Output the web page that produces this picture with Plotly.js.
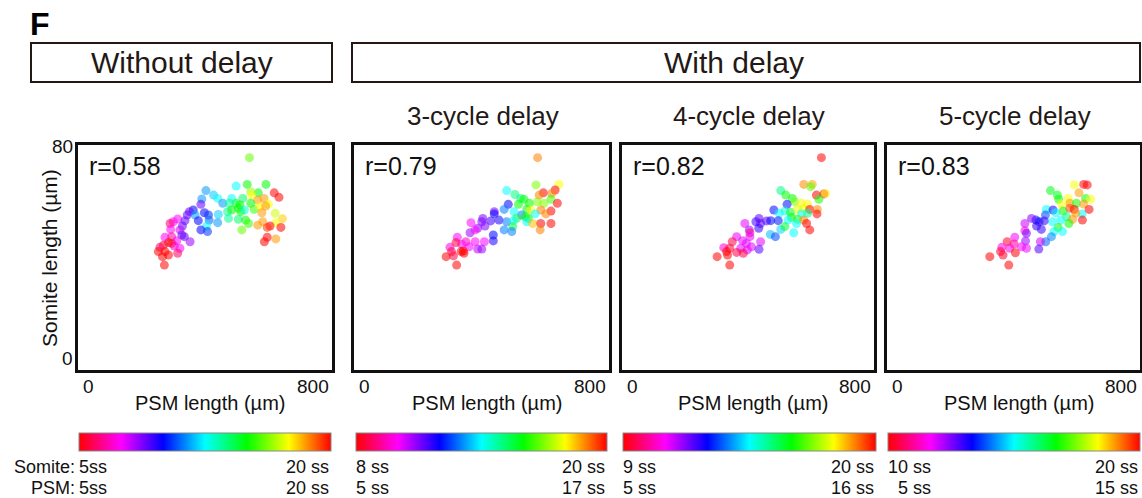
<!DOCTYPE html>
<html>
<head>
<meta charset="utf-8">
<script src="https://cdn.plot.ly/plotly-3.0.1.min.js"></script>
<style>html,body{margin:0;padding:0;background:#fff;}#chart{width:1142px;height:498px;}</style>
</head>
<body>
<div id="chart"></div>
<script>
// ---------- Data (PSM length µm, somite length µm, somite stage) ----------
const panelTitles = ["Without delay", "3-cycle delay", "4-cycle delay", "5-cycle delay"];
const rValues = ["r=0.58", "r=0.79", "r=0.82", "r=0.83"];
const somiteStageRange = [[5, 20], [8, 20], [9, 20], [10, 20]];
const psmStageRange = [[5, 20], [5, 17], [5, 16], [5, 15]];

const p1X = [540,498,533,592,403,427,440,390,484,519,544,568,547,618,633,586,600,566,544,456,477,498,510,505,555,573,591,387,363,351,344,369,398,411,442,471,484,513,524,579,621,644,624,314,300,290,337,379,413,440,474,505,528,537,566,582,605,596,639,329,292,321,405,387,408,516,327,335,274,295,353,311,295,303,269,285,258,321,253,274,285,266,314,272,596,587,623];
const p1Y = [75.5,65.4,66.0,66.0,63.8,62.2,61.0,60.8,61.0,61.0,63.4,63.0,62.2,63.0,61.4,61.0,59.0,60.4,59.3,59.3,59.3,59.3,58.7,57.5,57.1,58.1,58.3,58.9,56.9,56.3,55.1,55.1,55.9,55.1,55.3,56.3,56.9,56.3,56.9,55.9,55.7,53.8,52.4,53.7,52.7,52.1,53.1,53.1,53.3,52.4,53.9,53.6,53.3,52.1,51.5,52.7,51.2,50.7,50.7,51.2,50.0,49.8,51.2,49.8,49.2,49.8,48.0,47.4,47.2,47.4,45.6,46.0,45.0,44.1,44.4,45.3,43.6,43.3,42.1,42.1,40.9,40.3,41.5,37.3,47.2,45.6,46.6];
const p1Stage = [16,12.5,15,15,11.5,12,12.5,11.5,12.5,14,16.5,15,17.5,20,20,18.5,17.5,18.5,15,11.5,13.5,14.5,15,15,15.5,17.5,18.5,9,10,9,9,11.5,10,10.5,12,13.5,15,15,13,18.5,17,18,17.5,7.5,7.5,6,9,10,11,11.5,13.5,14,15,15.5,18.5,18.5,20,19.5,20,9,7.5,8,12.5,10,10.5,16,9,9,7.5,6.5,8.5,7.5,5.5,7,5.5,5,6,7.5,5,5,5,5,6,5,20,20,18.5];

const p2X = [576,571,643,631,594,620,581,479,505,523,533,550,575,596,618,638,516,484,471,502,542,555,586,618,602,568,526,537,547,510,440,440,404,401,429,455,479,500,542,561,586,618,584,498,495,471,367,388,411,364,380,437,437,409,324,351,338,380,301,320,361,388,401,306,336,345,312,289,322,343];
const p2Y = [75.5,65.8,66.0,64.0,63.0,62.8,62.2,63.8,62.4,61.0,60.7,59.3,59.8,59.3,60.7,59.3,58.9,58.9,57.1,56.3,57.2,56.9,56.9,56.5,55.5,55.5,55.1,54.5,53.9,53.9,56.3,55.5,53.9,52.7,53.0,53.3,52.7,53.1,52.7,52.1,52.1,52.1,49.8,51.0,49.2,49.8,52.4,50.4,51.2,48.8,49.8,48.0,45.9,45.6,47.2,45.6,44.7,45.6,43.6,45.3,43.8,43.0,43.0,42.1,42.1,41.5,40.6,40.3,37.3,42.3];
const p2Stage = [19,17,18,20,20,19,19,14,15,15,16,16,17,17,16.5,20,16,12,13,14,16,18,19,20,19,14,13,16,16,15.5,11,12,11,11,11.5,11.8,13,14,14,18.5,20,20,19,15.5,13,13,10,10.8,11,10.8,10,12,11.8,10,10,9.5,10,10,9.8,8.5,10,10.5,10.8,8.5,8,8,8.5,8,8,8];

const p3X = [633,577,604,599,504,520,541,617,641,646,625,549,570,589,524,482,499,517,535,557,575,596,620,589,570,619,538,557,577,586,554,527,435,459,472,496,425,390,440,434,404,406,406,504,517,545,596,471,487,364,350,383,395,411,440,435,323,342,377,398,332,364,385,335,302,342];
const p3Y = [75.5,66.0,66.0,65.2,63.8,62.2,61.0,62.2,62.6,62.8,60.7,59.8,59.3,59.0,58.9,56.9,55.7,56.5,56.1,57.1,57.5,57.1,57.1,55.7,55.5,55.5,54.3,53.6,53.3,52.1,52.1,53.3,53.9,53.0,53.1,53.1,52.7,52.1,52.1,50.4,49.8,48.8,47.4,50.0,51.0,48.8,49.8,48.2,47.4,47.4,45.6,46.0,45.0,43.8,45.6,42.9,43.5,43.3,43.3,42.7,42.1,41.8,41.5,40.9,40.3,37.3];
const p3Stage = [20,19,18.8,17,15.4,16.3,16.3,20,20,18.2,16.5,17.2,18.2,18.2,12.7,12.7,14.5,14.8,16,18,18,20,19,15.4,14.5,20,16.3,16.5,19,20,14.5,14.5,12,12,12.7,12.8,12.2,11,12,12.3,11.5,10,11,14.2,16,14.5,20,14,13.2,11,9.5,11,11,11,11,12,10.5,9.5,11,11,9,9.5,9.5,9,9,9];

const p4X = [622,633,592,607,517,539,543,573,578,599,628,644,622,552,504,525,534,557,578,592,617,639,597,568,587,549,575,541,555,618,523,501,471,481,497,457,436,473,488,528,520,502,485,436,441,404,438,380,402,425,441,480,363,388,359,406,367,325,385];
const p4Y = [66.0,65.8,65.8,63.0,63.8,62.2,60.7,61.0,59.3,59.3,61.0,60.7,59.0,58.9,57.1,56.9,55.9,56.5,57.5,57.1,55.5,57.1,55.7,54.5,53.6,53.3,52.1,50.7,49.2,53.3,52.7,55.1,53.3,52.7,53.0,53.9,52.1,51.2,50.0,49.2,47.4,45.6,45.6,49.5,48.6,47.2,45.9,45.6,44.8,43.8,43.3,43.0,43.6,43.3,42.1,41.7,40.9,40.3,37.3];
const p4Stage = [20,20,18.3,19,16.5,16.5,16.7,18.3,19,16.8,16.8,18.3,19,18.3,15,13.3,15,16.7,19.5,20,15,20,19,15.8,19,15,16.7,16.7,15,20,15,13.8,13.3,13.3,13,12.5,12,13,13,15,14.2,14,12,11.5,12.5,11.7,12.3,10.3,11,11.7,11.8,12.8,11.5,11.5,10.3,10,10.3,10,10];

const xRange = [0, 800];
const yRange = [0, 80];
const xTickLabels = ["0", "800"];
const yTickLabels = ["0", "80"];

// ---------- Layout helpers ----------
const W = 1142, H = 498;
const px = v => v / W;
const py = v => 1 - v / H;
const FONT = "Liberation Sans, Arial, Helvetica, sans-serif";
const INK = "#231815";
const LBL = 18;
const ROW1 = 466.5, ROW2 = 487.5;

const hueScale = [
  [0, "rgb(255,0,0)"], [1/6, "rgb(255,0,255)"], [2/6, "rgb(0,0,255)"],
  [3/6, "rgb(0,255,255)"], [4/6, "rgb(0,255,0)"], [5/6, "rgb(255,255,0)"], [1, "rgb(255,0,0)"]
];

const panelsX = [[78, 332], [354, 609], [622, 874], [887, 1140]];
const panelTop = 145, panelBottom = 370;
const cbX = [[79, 331], [356, 607], [623, 876], [888, 1140]];

const allX = [p1X, p2X, p3X, p4X];
const allY = [p1Y, p2Y, p3Y, p4Y];
const allS = [p1Stage, p2Stage, p3Stage, p4Stage];

const data = [];
const layout = {
  width: W, height: H,
  margin: {l: 0, r: 0, t: 0, b: 0, autoexpand: false},
  paper_bgcolor: "#fff", plot_bgcolor: "#fff",
  showlegend: false,
  font: {family: FONT, color: INK},
  annotations: [], shapes: []
};

function ann(o) {
  layout.annotations.push(Object.assign({showarrow: false, borderpad: 0}, o));
}
function rowLabel(xpix, ypix, anchor, text) {
  ann({xref: "paper", yref: "paper", x: px(xpix), y: py(ypix), xanchor: anchor, yanchor: "middle",
    text: text, font: {size: LBL, family: FONT, color: "#111"}});
}

for (let i = 0; i < 4; i++) {
  const n = i === 0 ? "" : String(i + 1);
  const xa = "xaxis" + n, ya = "yaxis" + n;
  layout[xa] = {
    domain: [px(panelsX[i][0]), px(panelsX[i][1])], range: xRange, anchor: "y" + n,
    showgrid: false, zeroline: false, showticklabels: false, ticks: "",
    showline: true, mirror: true, linecolor: "#111", linewidth: 2.8, fixedrange: true
  };
  layout[ya] = {
    domain: [py(panelBottom), py(panelTop)], range: yRange, anchor: "x" + n,
    showgrid: false, zeroline: false, showticklabels: false, ticks: "",
    showline: true, mirror: true, linecolor: "#111", linewidth: 2.8, fixedrange: true
  };
  data.push({
    type: "scatter", mode: "markers",
    x: allX[i], y: allY[i], xaxis: "x" + n, yaxis: "y" + n,
    marker: {
      size: 9, opacity: 0.55, line: {width: 0},
      color: allS[i], colorscale: hueScale,
      cmin: somiteStageRange[i][0], cmax: somiteStageRange[i][1],
      showscale: true,
      colorbar: {
        orientation: "h", x: px(cbX[i][0]), xanchor: "left",
        y: py(433), yanchor: "top",
        len: cbX[i][1] - cbX[i][0], lenmode: "pixels",
        thickness: 18, thicknessmode: "pixels",
        outlinewidth: 1, outlinecolor: "#888", borderwidth: 0,
        showticklabels: false, ticks: "", xpad: 0, ypad: 0
      }
    },
    hoverinfo: "skip"
  });

  const xr = "x" + n, yr = "y" + n;
  ann({xref: "paper", yref: "paper", x: px(panelsX[i][0] + 10), y: py(166),
    xanchor: "left", yanchor: "middle", text: rValues[i],
    font: {size: 25, family: FONT, color: "#111"}});
  ann({xref: xr, yref: yr, x: xRange[0], y: yRange[0], xanchor: "left", yanchor: "top",
    xshift: 4, yshift: -5, text: xTickLabels[0], font: {size: 19, family: FONT, color: "#111"}});
  ann({xref: xr, yref: yr, x: xRange[1], y: yRange[0], xanchor: "right", yanchor: "top",
    xshift: -2, yshift: -5, text: xTickLabels[1], font: {size: 19, family: FONT, color: "#111"}});
  ann({xref: "paper", yref: "paper", x: px((panelsX[i][0] + panelsX[i][1]) / 2 + 5), y: py(403),
    xanchor: "center", yanchor: "middle", text: "PSM length (µm)",
    font: {size: 20, family: FONT, color: "#111"}});
  if (i > 0) {
    ann({xref: "paper", yref: "paper", x: px((panelsX[i][0] + panelsX[i][1]) / 2 + 1), y: py(116),
      xanchor: "center", yanchor: "middle", text: panelTitles[i],
      font: {size: 26, family: FONT, color: INK}});
  }
  // colorbar labels: start (left) and end (right), somite row over PSM row
  const sr = somiteStageRange[i], pr = psmStageRange[i];
  const sp = i === 0 ? "" : " ";
  rowLabel(cbX[i][0] - 1, ROW1, "left", sr[0] + sp + "ss");
  if (i === 3) {
    rowLabel(cbX[i][0] + 9, ROW2, "left", pr[0] + sp + "ss");
  } else {
    rowLabel(cbX[i][0] - 1, ROW2, "left", pr[0] + sp + "ss");
  }
  rowLabel(cbX[i][1] - 1, ROW1, "right", sr[1] + " ss");
  rowLabel(cbX[i][1] - 1, ROW2, "right", pr[1] + " ss");
}

// y axis labels (panel 1 only)
ann({xref: "x", yref: "y", x: 0, y: yRange[1], xanchor: "right", yanchor: "middle",
  xshift: -4, yshift: -1, text: yTickLabels[1], font: {size: 19, family: FONT, color: "#111"}});
ann({xref: "x", yref: "y", x: 0, y: yRange[0], xanchor: "right", yanchor: "middle",
  xshift: -4, yshift: 12, text: yTickLabels[0], font: {size: 19, family: FONT, color: "#111"}});
ann({xref: "paper", yref: "paper", x: px(49), y: py(258), xanchor: "center", yanchor: "middle",
  textangle: -90, text: "Somite length (µm)", font: {size: 21, family: FONT, color: "#111"}});

// row labels for colorbars
rowLabel(76, ROW1, "right", "Somite:");
rowLabel(76, ROW2, "right", "PSM:");

// header boxes and titles
layout.shapes.push({type: "rect", xref: "paper", yref: "paper", x0: px(31), x1: px(332), y0: py(82), y1: py(43),
  line: {color: INK, width: 2}});
layout.shapes.push({type: "rect", xref: "paper", yref: "paper", x0: px(352), x1: px(1140), y0: py(82), y1: py(43),
  line: {color: INK, width: 2}});
ann({xref: "paper", yref: "paper", x: px(182), y: py(62), xanchor: "center", yanchor: "middle",
  text: panelTitles[0], font: {size: 30, family: FONT, color: INK}});
ann({xref: "paper", yref: "paper", x: px(734), y: py(62), xanchor: "center", yanchor: "middle",
  text: "With delay", font: {size: 30, family: FONT, color: INK}});
ann({xref: "paper", yref: "paper", x: px(29), y: py(24), xanchor: "left", yanchor: "middle",
  text: "<b>F</b>", font: {size: 32, family: FONT, color: "#000"}});

Plotly.newPlot("chart", data, layout, {staticPlot: true, displayModeBar: false});
</script>
</body>
</html>
